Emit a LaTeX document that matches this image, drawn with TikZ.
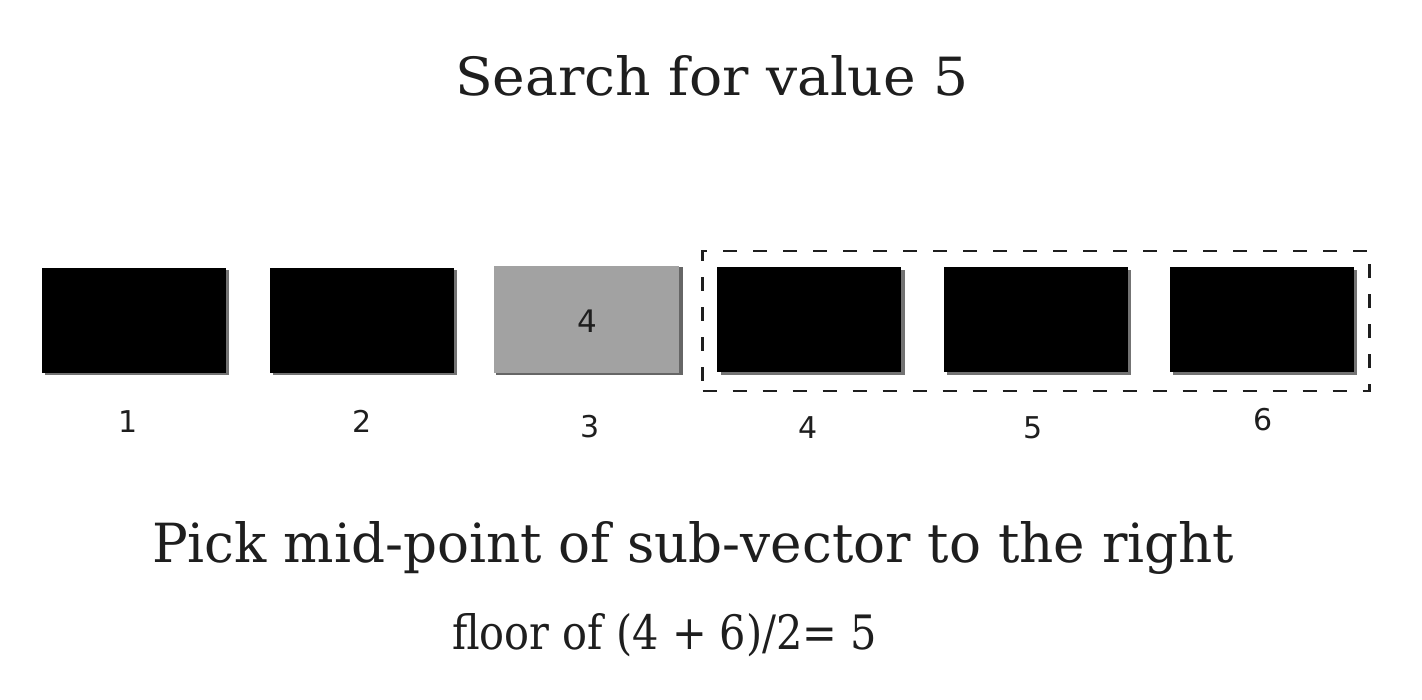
\documentclass[tikz,border=0pt]{standalone}
\usepackage{fontspec}
\setmainfont{DejaVu Serif}
\newfontfamily\digitfont{DejaVu Sans}
\usetikzlibrary{positioning}
\definecolor{ink}{HTML}{1E1E1E}
\definecolor{cellgray}{HTML}{A2A2A2}
\tikzset{
  cell/.style={fill=black, minimum width=184pt, minimum height=105pt, inner sep=0pt, draw=none},
  shadowcell/.style={fill=black!55, minimum width=184pt, minimum height=105pt, inner sep=0pt},
  idx/.style={font=\digitfont\fontsize{30}{30}\selectfont, text=ink, inner sep=0pt, anchor=base},
  txt/.style={text=ink, inner sep=0pt, anchor=base west},
  frame/.style={draw=ink, line width=2.8pt, dash pattern=on 14pt off 16pt,
    minimum width=667pt, minimum height=140pt, inner sep=0pt}
}
\begin{document}
\begin{tikzpicture}[x=1pt,y=-1pt]
\useasboundingbox (0,0) rectangle (1422,699);
\fill[white] (0,0) rectangle (1422,699);
% title
\node[txt] (title) at (455,95) {\resizebox{513pt}{40pt}{Search for value 5}};
% shadows
\foreach \x in {133.5,361.5,809.5,1035.5,1262} {
  \node[shadowcell] at (\x+3,322) {};
}
\node[shadowcell, minimum width=187pt, minimum height=108pt, fill=black!60] at (589,321) {};
% cells
\node[cell] (c1) at (133.5,320) {};
\node[cell] (c2) at (361.5,320) {};
\node[cell, fill=cellgray, minimum width=185pt, minimum height=107pt] (c3) at (586,319) {};
\node[font=\digitfont\fontsize{31}{31}\selectfont, text=ink, inner sep=0pt] (v3) at (587,321) {4};
\node[cell] (c4) at (809,319.5) {};
\node[cell] (c5) at (1035.5,319.5) {};
\node[cell] (c6) at (1262,319.5) {};
% dashed frame
\node[frame] (sub) at (1036,321) {};
% indices
\node[idx] (i1) at (128,432) {1};
\node[idx] (i2) at (362,432) {2};
\node[idx] (i3) at (590,437) {3};
\node[idx] (i4) at (808,438) {4};
\node[idx] (i5) at (1033,438) {5};
\node[idx] (i6) at (1263,430) {6};
% bottom texts
\node[txt] (pick) at (152,562) {\resizebox{1082pt}{41pt}{Pick mid-point of sub-vector to the right}};
\node[txt] (floor) at (452,649) {\resizebox{425pt}{36pt}{floor of (4 + 6)/2= 5}};
\end{tikzpicture}
\end{document}
